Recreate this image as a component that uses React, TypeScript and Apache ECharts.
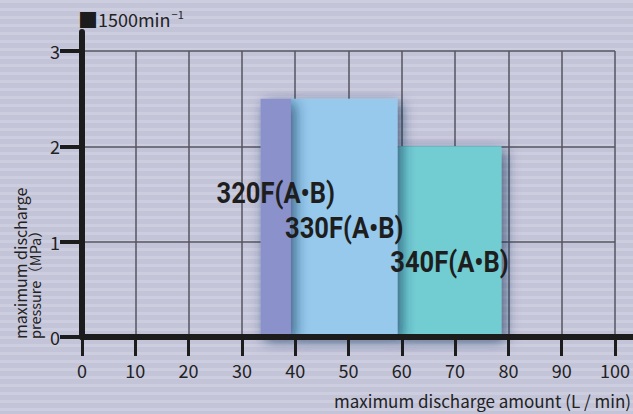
import React, { useEffect, useRef } from 'react';
import * as echarts from 'echarts';

// ---- data ----
const models = ['320F(A•B)', '330F(A•B)', '340F(A•B)'];
const flowStart = [33.5, 39.2, 59.2]; // L/min
const flowEnd = [39.2, 59.2, 78.7]; // L/min
const maxPressure = [2.5, 2.5, 2.0]; // MPa
const labelLevel = [1.51, 1.14, 0.78]; // MPa, vertical position of model labels
const barColors = ['#8a91cb', '#96c9ec', '#72cdd3'];

const xMin = 0;
const xMax = 100;
const xStep = 10;
const yMin = 0;
const yMax = 3;
const yStep = 1;

const speedLabel = '1500min';
const xName = 'maximum discharge amount (L / min)';
const yNameLine1 = 'maximum discharge';
const yNameLine2 = 'pressure（MPa）';

const FONT = '"Noto Sans CJK JP", "Noto Sans", sans-serif';

export default function App() {
  const ref = useRef<HTMLDivElement>(null);

  useEffect(() => {
    if (!ref.current) return;
    const chart = echarts.init(ref.current, null, { renderer: 'svg' });

    const W = 633;
    const H = 414;
    const stripes: any[] = [];
    for (let y = 0; y < H; y += 8) {
      stripes.push({
        type: 'rect',
        z: -10,
        silent: true,
        shape: { x: 0, y, width: W, height: 3 },
        style: { fill: '#cdcde0' },
      });
    }

    // draw order: later bars cast shadow on earlier ones
    const order = [2, 1, 0];
    const barData = order.map((i) => ({
      value: [flowStart[i], flowEnd[i], maxPressure[i], i],
    }));
    const labelData = models.map((_, i) => ({
      value: [(flowStart[i] + flowEnd[i]) / 2, labelLevel[i], i],
    }));

    const tickColor = '#1c1c1c';

    const option: any = {
      animation: false,
      backgroundColor: '#c4c4d9',
      grid: [
        { left: 82, right: 18, top: 51, bottom: 77 },
        { left: 82, right: 0, top: 32, bottom: 77 },
      ],
      xAxis: [
        {
          gridIndex: 0,
          type: 'value',
          min: xMin,
          max: xMax,
          interval: xStep,
          z: 10,
          axisLine: { show: false },
          axisTick: { show: true, length: 18, lineStyle: { color: tickColor, width: 3 } },
          axisLabel: { margin: 24, fontSize: 18, color: '#222', fontFamily: FONT },
          splitLine: { show: false },
        },
        {
          gridIndex: 0,
          type: 'value',
          min: xMin,
          max: xMax,
          interval: xStep,
          z: 10,
          axisLine: { show: false },
          axisTick: { show: true, inside: true, length: 19, lineStyle: { color: tickColor, width: 3 } },
          axisLabel: { show: false },
          splitLine: { show: false },
        },
        {
          gridIndex: 0,
          type: 'value',
          min: xMin,
          max: xMax,
          interval: xStep,
          z: 0,
          axisLine: { show: false },
          axisTick: { show: false },
          axisLabel: { show: false },
          splitLine: { show: true, lineStyle: { color: '#55555f', width: 1.5 } },
        },
        {
          gridIndex: 1,
          type: 'value',
          min: 0,
          max: 1,
          z: 11,
          axisLine: { show: true, onZero: false, lineStyle: { color: tickColor, width: 6 } },
          axisTick: { show: false },
          axisLabel: { show: false },
          splitLine: { show: false },
        },
      ],
      yAxis: [
        {
          gridIndex: 0,
          type: 'value',
          min: yMin,
          max: yMax,
          interval: yStep,
          z: 10,
          axisLine: { show: false },
          axisTick: { show: true, length: 15, lineStyle: { color: tickColor, width: 4 } },
          axisLabel: { margin: 22, fontSize: 18, color: '#222', fontFamily: FONT },
          splitLine: { show: false },
        },
        {
          gridIndex: 0,
          type: 'value',
          min: yMin,
          max: yMax,
          interval: yStep,
          z: 10,
          axisLine: { show: false },
          axisTick: { show: true, inside: true, length: 22, lineStyle: { color: tickColor, width: 4 } },
          axisLabel: { show: false },
          splitLine: { show: false },
        },
        {
          gridIndex: 0,
          type: 'value',
          min: yMin,
          max: yMax,
          interval: yStep,
          z: 0,
          axisLine: { show: false },
          axisTick: { show: false },
          axisLabel: { show: false },
          splitLine: { show: true, lineStyle: { color: '#55555f', width: 1.5 } },
        },
        {
          gridIndex: 1,
          type: 'value',
          min: 0,
          max: 1,
          z: 11,
          axisLine: { show: true, onZero: false, lineStyle: { color: tickColor, width: 6 } },
          axisTick: { show: false },
          axisLabel: { show: false },
          splitLine: { show: false },
        },
      ],
      series: [
        {
          type: 'custom',
          xAxisIndex: 0,
          yAxisIndex: 0,
          z: 2,
          data: barData,
          renderItem: (params: any, api: any) => {
            const idx = api.value(3);
            const p0 = api.coord([api.value(0), api.value(2)]);
            const p1 = api.coord([api.value(1), 0]);
            return {
              type: 'rect',
              shape: { x: p0[0], y: p0[1], width: p1[0] - p0[0], height: p1[1] - p0[1] },
              style: {
                fill: barColors[idx],
                shadowBlur: 14,
                shadowColor: 'rgba(25,45,85,0.7)',
                shadowOffsetX: 4,
                shadowOffsetY: 4,
              },
            };
          },
        },
        {
          type: 'custom',
          xAxisIndex: 0,
          yAxisIndex: 0,
          z: 20,
          data: labelData,
          renderItem: (params: any, api: any) => {
            const idx = api.value(2);
            const c = api.coord([api.value(0), api.value(1)]);
            return {
              type: 'text',
              x: c[0],
              y: c[1],
              scaleX: 0.88,
              style: {
                text: models[idx],
                fontSize: 29,
                fontWeight: 'bold',
                fontFamily: 'Roboto, "Noto Sans", sans-serif',
                fill: '#1e1e1e',
                align: 'center',
                verticalAlign: 'middle',
              },
            };
          },
        },
      ],
      graphic: [
        ...stripes,
        {
          type: 'text',
          x: 78,
          y: 19,
          style: {
            text: '{sq|■}{t|' + speedLabel + '}{s|−1}',
            verticalAlign: 'middle',
            rich: {
              sq: { fontSize: 20, fontFamily: FONT, fill: '#1c1c1c' },
              t: { fontSize: 18, fontFamily: FONT, fill: '#222' },
              s: { fontSize: 11, fontFamily: FONT, fill: '#222', verticalAlign: 'top', padding: [0, 0, 10, 1] },
            },
          },
        },
        {
          type: 'text',
          x: 631,
          y: 400,
          style: {
            text: xName,
            fontSize: 17,
            fontFamily: FONT,
            fill: '#222',
            align: 'right',
            verticalAlign: 'middle',
          },
        },
        {
          type: 'text',
          x: 20,
          y: 339,
          rotation: Math.PI / 2,
          style: {
            text: yNameLine1,
            fontSize: 16,
            fontFamily: FONT,
            fill: '#222',
            align: 'left',
            verticalAlign: 'middle',
          },
        },
        {
          type: 'text',
          x: 34,
          y: 339,
          rotation: Math.PI / 2,
          style: {
            text: yNameLine2,
            fontSize: 14.5,
            fontFamily: FONT,
            fill: '#222',
            align: 'left',
            verticalAlign: 'middle',
          },
        },
      ],
    };

    chart.setOption(option);
    return () => chart.dispose();
  }, []);

  return (
    <div
      ref={ref}
      style={{ position: 'fixed', left: 0, top: 0, width: 633, height: 414 }}
    />
  );
}
